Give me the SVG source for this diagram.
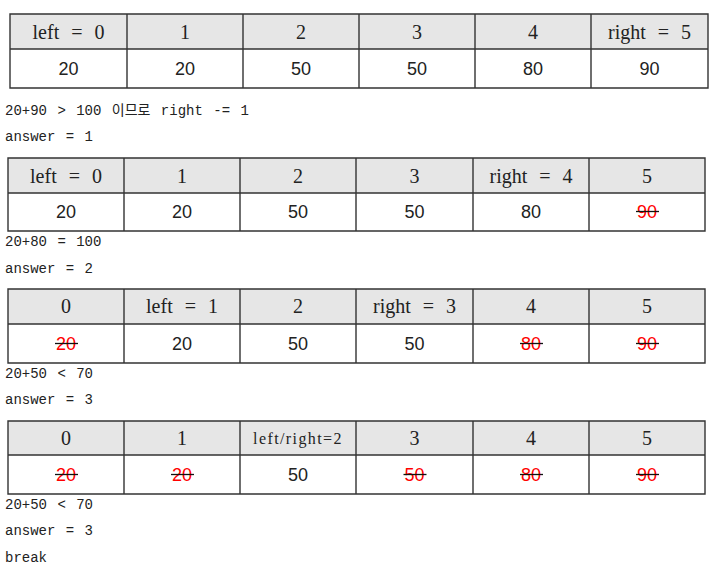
<svg xmlns="http://www.w3.org/2000/svg" width="722" height="582" viewBox="0 0 722 582">
<style>
.hdr{fill:#e6e6e6;stroke:none}
.cell{fill:#ffffff;stroke:none}
.grid{stroke:#333;stroke-width:1.4;fill:none}
.h{font-family:"Liberation Serif","DejaVu Serif",serif;font-size:20px;fill:#222;text-anchor:middle;word-spacing:7px}
.hs{font-family:"Liberation Serif","DejaVu Serif",serif;font-size:16px;fill:#222;text-anchor:middle;letter-spacing:1.4px}
.v{font-family:"Liberation Sans","DejaVu Sans",sans-serif;font-size:18px;fill:#222;text-anchor:middle}
.r{fill:#ff0000}
.s{stroke:#111;stroke-width:1.3}
.t{font-family:"Liberation Mono","Noto Sans CJK KR",monospace;font-size:14px;fill:#222;word-spacing:2px}
</style>
<rect width="722" height="582" fill="#fff"/>

<g id="table1">
<rect class="hdr" x="10" y="14" width="698" height="35"/>
<rect class="cell" x="10" y="49" width="698" height="39"/>
<path class="grid" d="M10 14H708V88H10Z M10 49H708 M127 14V88 M243 14V88 M359 14V88 M475 14V88 M591 14V88"/>
<text class="h" x="68.5" y="39">left = 0</text>
<text class="h" x="185" y="39">1</text>
<text class="h" x="301" y="39">2</text>
<text class="h" x="417" y="39">3</text>
<text class="h" x="533" y="39">4</text>
<text class="h" x="649.5" y="39">right = 5</text>
<text class="v" x="68.5" y="75">20</text>
<text class="v" x="185" y="75">20</text>
<text class="v" x="301" y="75">50</text>
<text class="v" x="417" y="75">50</text>
<text class="v" x="533" y="75">80</text>
<text class="v" x="649.5" y="75">90</text>
</g>
<g id="note1">
<text class="t" x="5" y="115">20+90 &gt; 100 이므로 right -= 1</text>
<text class="t" x="5" y="141">answer = 1</text>
</g>

<g id="table2">
<rect class="hdr" x="8" y="158" width="697" height="35"/>
<rect class="cell" x="8" y="193" width="697" height="38"/>
<path class="grid" d="M8 158H705V231H8Z M8 193H705 M124 158V231 M240 158V231 M356 158V231 M473 158V231 M589 158V231"/>
<text class="h" x="66" y="183">left = 0</text>
<text class="h" x="182" y="183">1</text>
<text class="h" x="298" y="183">2</text>
<text class="h" x="414.5" y="183">3</text>
<text class="h" x="531" y="183">right = 4</text>
<text class="h" x="647" y="183">5</text>
<text class="v" x="66" y="218">20</text>
<text class="v" x="182" y="218">20</text>
<text class="v" x="298" y="218">50</text>
<text class="v" x="414.5" y="218">50</text>
<text class="v" x="531" y="218">80</text>
<text class="v r" x="647" y="218">90</text>
<line class="s" x1="636" y1="211.5" x2="659" y2="211.5"/>
</g>
<g id="note2">
<text class="t" x="5" y="246">20+80 = 100</text>
<text class="t" x="5" y="273">answer = 2</text>
</g>

<g id="table3">
<rect class="hdr" x="8" y="289" width="697" height="35"/>
<rect class="cell" x="8" y="324" width="697" height="39"/>
<path class="grid" d="M8 289H705V363H8Z M8 324H705 M124 289V363 M240 289V363 M356 289V363 M473 289V363 M589 289V363"/>
<text class="h" x="66" y="313">0</text>
<text class="h" x="182" y="313">left = 1</text>
<text class="h" x="298" y="313">2</text>
<text class="h" x="414.5" y="313">right = 3</text>
<text class="h" x="531" y="313">4</text>
<text class="h" x="647" y="313">5</text>
<text class="v r" x="66" y="350">20</text>
<text class="v" x="182" y="350">20</text>
<text class="v" x="298" y="350">50</text>
<text class="v" x="414.5" y="350">50</text>
<text class="v r" x="531" y="350">80</text>
<text class="v r" x="647" y="350">90</text>
<line class="s" x1="55" y1="343.5" x2="78" y2="343.5"/>
<line class="s" x1="520" y1="343.5" x2="543" y2="343.5"/>
<line class="s" x1="636" y1="343.5" x2="659" y2="343.5"/>
</g>
<g id="note3">
<text class="t" x="5" y="378">20+50 &lt; 70</text>
<text class="t" x="5" y="404">answer = 3</text>
</g>

<g id="table4">
<rect class="hdr" x="8" y="421" width="697" height="34"/>
<rect class="cell" x="8" y="455" width="697" height="39"/>
<path class="grid" d="M8 421H705V494H8Z M8 455H705 M124 421V494 M240 421V494 M356 421V494 M473 421V494 M589 421V494"/>
<text class="h" x="66" y="445">0</text>
<text class="h" x="182" y="445">1</text>
<text class="hs" x="298" y="444">left/right=2</text>
<text class="h" x="414.5" y="445">3</text>
<text class="h" x="531" y="445">4</text>
<text class="h" x="647" y="445">5</text>
<text class="v r" x="66" y="481">20</text>
<text class="v r" x="182" y="481">20</text>
<text class="v" x="298" y="481">50</text>
<text class="v r" x="414.5" y="481">50</text>
<text class="v r" x="531" y="481">80</text>
<text class="v r" x="647" y="481">90</text>
<line class="s" x1="55" y1="474.5" x2="78" y2="474.5"/>
<line class="s" x1="171" y1="474.5" x2="194" y2="474.5"/>
<line class="s" x1="403.5" y1="474.5" x2="426.5" y2="474.5"/>
<line class="s" x1="520" y1="474.5" x2="543" y2="474.5"/>
<line class="s" x1="636" y1="474.5" x2="659" y2="474.5"/>
</g>
<g id="note4">
<text class="t" x="5" y="509">20+50 &lt; 70</text>
<text class="t" x="5" y="535">answer = 3</text>
<text class="t" x="5" y="562">break</text>
</g>
</svg>
